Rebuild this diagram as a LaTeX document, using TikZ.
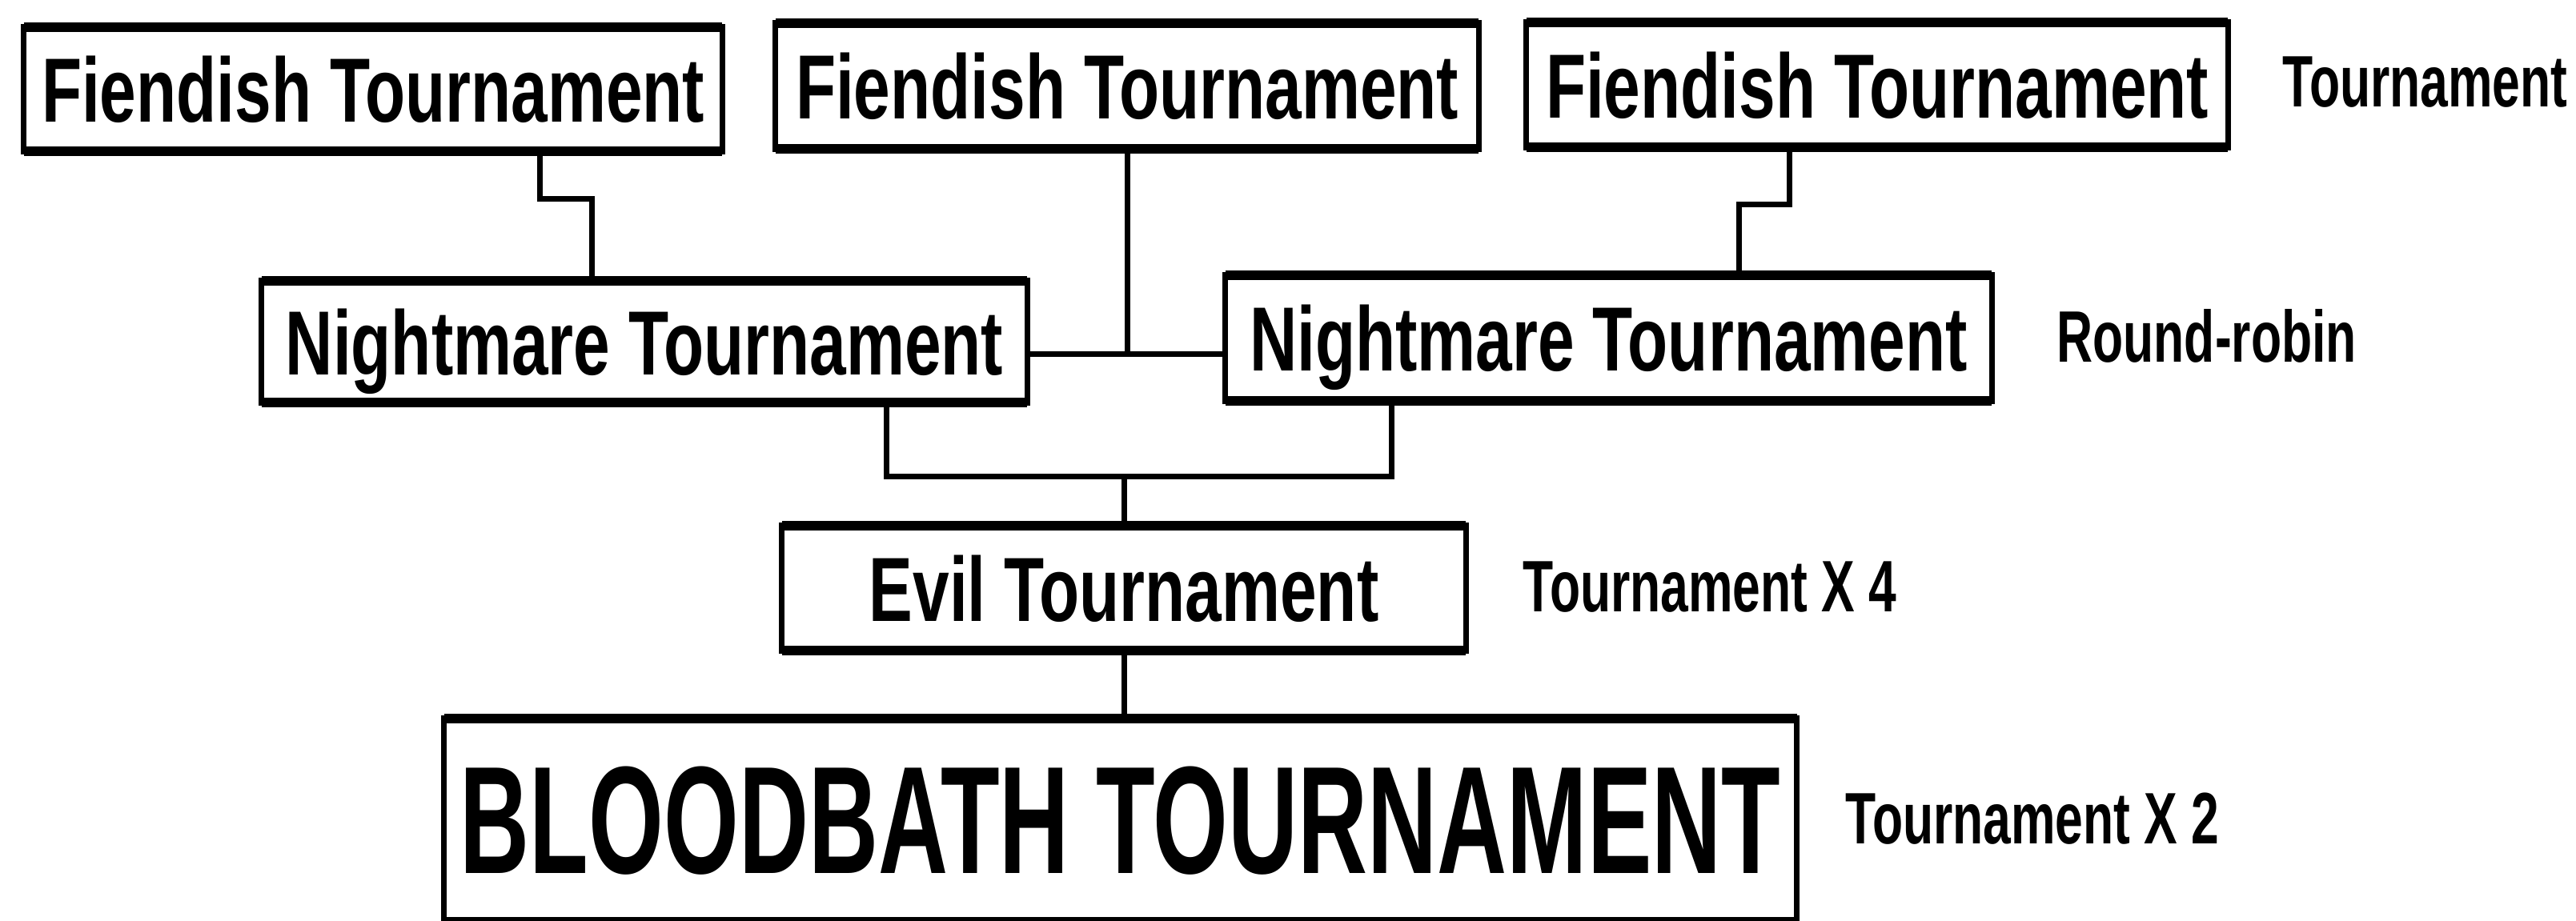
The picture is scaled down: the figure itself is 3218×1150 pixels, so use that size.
\documentclass[tikz,border=0pt]{standalone}
\usepackage{fontspec}
\newfontfamily\boxfont{Liberation Sans}[FakeStretch=0.72]
\newfontfamily\bloodfont{Liberation Sans}[FakeStretch=0.63]
\newfontfamily\notefont{Liberation Sans}[FakeStretch=0.685]

\begin{document}
\begin{tikzpicture}[x=0.01cm, y=-0.01cm, line width=2pt,
  tbox/.style={draw, inner sep=0pt, outer sep=0pt, text depth=0pt,
    font=\boxfont\bfseries\fontsize{32.4pt}{33pt}\selectfont},
  note/.style={anchor=base west, inner sep=0pt,
    font=\notefont\bfseries\fontsize{25.9pt}{26pt}\selectfont}]
\useasboundingbox (0,0) rectangle (3218,1150);
\node[tbox, minimum width=8.72cm, minimum height=1.55cm] (f1) at (466,111.5) {Fiendish Tournament};
\node[tbox, minimum width=8.78cm, minimum height=1.57cm] (f2) at (1408,107.5) {Fiendish Tournament};
\node[tbox, minimum width=8.76cm, minimum height=1.56cm] (f3) at (2345,106) {Fiendish Tournament};
\node[tbox, minimum width=9.56cm, minimum height=1.52cm] (n1) at (805,427) {Nightmare Tournament};
\node[tbox, minimum width=9.57cm, minimum height=1.57cm] (n2) at (2009.5,422.5) {Nightmare Tournament};
\node[tbox, minimum width=8.54cm, minimum height=1.56cm] (evil) at (1404,735) {Evil Tournament};
\node[tbox, minimum width=16.89cm, minimum height=2.54cm,
  font=\bloodfont\bfseries\fontsize{54.4pt}{55pt}\selectfont] (blood) at (1399.5,1025) {BLOODBATH TOURNAMENT};
\foreach \b in {f1,f2,f3,n1,n2,evil,blood}
  \draw[line width=3.2pt] (\b.north west) -- (\b.north east) (\b.south west) -- (\b.south east);
\node[note] (lab1) at (2848,133) {Tournament};
\node[note] (lab2) at (2566,452) {Round-robin};
\node[note] (lab3) at (1899,764) {Tournament X 4};
\node[note] (lab4) at (2302,1054) {Tournament X 2};
\draw ([xshift=2.08cm]f1.south) -- ++(0,59) -| ([xshift=-0.65cm]n1.north);
\draw ([xshift=-1.09cm]f3.south) -- ++(0,71) -| ([xshift=1.625cm]n2.north);
\draw ([yshift=-0.15cm]n1.east) coordinate (rr) -- (n2.west |- rr);
\draw (f2.south) -- (f2.south |- rr);
\draw ([xshift=3.02cm]n1.south) -- ++(0,92) coordinate (join) -| ([xshift=-2.705cm]n2.south);
\draw (evil.north) -- (evil.north |- join);
\draw (evil.south) -- (blood.north -| evil.south);
\end{tikzpicture}
\end{document}
